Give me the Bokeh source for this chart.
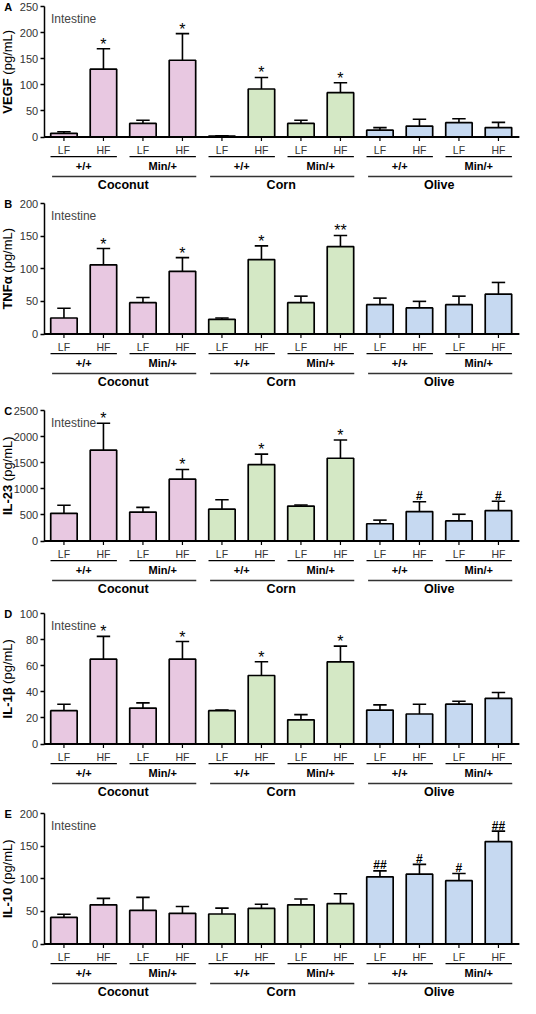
import numpy as np
from bokeh.plotting import figure
from bokeh.models import LinearAxis, FixedTicker, Range1d
from bokeh.layouts import column
from bokeh.core.properties import value
from bokeh.embed import file_html
from bokeh.resources import INLINE

# ---------------- data ----------------
fat_labels = ["LF", "HF"] * 6
genotype_labels = ["+/+", "Min/+"] * 3
diet_labels = ["Coconut", "Corn", "Olive"]
diet_colors = ["#E8C8E1", "#D4E8C5", "#C6D9F1"]

vegf_mean = [7, 130, 26, 147, 1.5, 92, 26, 85, 13, 21, 27.5, 18]
vegf_err = [3, 39, 6, 51, 1, 22, 6, 19, 5, 13, 7.5, 10]
vegf_sig = ["", "*", "", "*", "", "*", "", "*", "", "", "", ""]

tnf_mean = [24.5, 106, 48, 96, 22.5, 114, 48, 134, 45, 40, 45, 61]
tnf_err = [15, 25, 8, 21, 2, 21, 10, 17, 10, 10, 13, 18]
tnf_sig = ["", "*", "", "*", "", "*", "", "**", "", "", "", ""]

il23_mean = [530, 1740, 555, 1185, 610, 1465, 670, 1585, 330, 563, 385, 582]
il23_err = [155, 515, 90, 185, 180, 200, 20, 350, 70, 190, 127, 180]
il23_sig = ["", "*", "", "*", "", "*", "", "*", "", "#", "", "#"]

il1b_mean = [25.5, 65, 27.5, 65, 25.5, 52.5, 18.5, 63, 26, 23, 30.5, 35]
il1b_err = [5, 17.5, 4, 13.5, 0.6, 10.5, 4, 12, 4, 7.5, 2.3, 4.5]
il1b_sig = ["", "*", "", "*", "", "*", "", "*", "", "", "", ""]

il10_mean = [40.7, 60, 51.4, 47, 46, 54.5, 60, 62, 103, 107, 97, 157]
il10_err = [5, 10, 20, 10.5, 9, 6.5, 9, 15, 9, 15, 11, 16]
il10_sig = ["", "", "", "", "", "", "", "", "##", "#", "#", "##"]

panel_letters = ["A", "B", "C", "D", "E"]
panel_names = ["VEGF", "TNFα", "IL-23", "IL-1β", "IL-10"]
panel_ymax = [250, 200, 2500, 100, 200]
panel_step = [50, 50, 500, 20, 50]
tissue_label = "Intestine"

# ---------------- layout constants ----------------
FONT = "Liberation Sans"
HD = 130.5            # pixel height of the data area (0..ymax)
TOP = 6               # pixels above the data area
heights = [197, 207, 203, 200, 191]
PX = 39.5             # pixels per category unit
AXIS_X = -0.5         # where the y axis sits
X_START = AXIS_X - 43.7 / PX
X_END = X_START + 520 / PX
X_BASE_END = 11.53

BOLD_W = {"V": 667, "E": 667, "G": 778, "F": 611, "T": 611, "N": 722, "α": 620,
          "I": 278, "L": 611, "-": 333, "0": 556, "1": 556, "2": 556, "3": 556, "β": 600}
REG_W = {"(": 333, "p": 556, "g": 556, "/": 278, "m": 833, "L": 556, ")": 333}


def text_w(s, table, size):
    return sum(table.get(c, 556) for c in s) / 1000 * size


def make_panel(i, means, errs, sigs):
    ymax = panel_ymax[i]
    h = heights[i]
    k = ymax / HD  # data units per pixel
    ymin = -(h - TOP - HD) * k
    p = figure(width=520, height=h, x_range=Range1d(X_START, X_END),
               y_range=Range1d(ymin, ymax + TOP * k),
               output_backend="svg", toolbar_location=None,
               x_axis_type=None, y_axis_type=None,
               min_border_left=0, min_border_right=0, min_border_top=0, min_border_bottom=0)
    p.outline_line_color = None
    p.background_fill_color = "white"
    p.border_fill_color = "white"

    ax = LinearAxis(fixed_location=AXIS_X, bounds=(0, ymax),
                    ticker=FixedTicker(ticks=list(range(0, ymax + 1, panel_step[i]))),
                    axis_line_width=1.5, axis_line_color="black",
                    major_tick_out=4, major_tick_in=0, major_tick_line_width=1.5,
                    minor_tick_out=0, minor_tick_in=0,
                    major_label_standoff=2,
                    major_label_text_font=FONT, major_label_text_font_size="11px",
                    major_label_text_color="#333333")
    p.add_layout(ax, "left")

    xs = np.arange(12)
    m = np.array(means, dtype=float)
    e = np.array(errs, dtype=float)
    colors = [diet_colors[j // 4] for j in range(12)]

    # error bars (upper only)
    p.segment(x0=xs, y0=m, x1=xs, y1=m + e, line_color="black", line_width=1.6)
    p.segment(x0=xs - 0.17, y0=m + e, x1=xs + 0.17, y1=m + e, line_color="black", line_width=1.6)
    # bars
    p.vbar(x=xs, top=m, bottom=0, width=0.67, fill_color=colors,
           line_color="black", line_width=1.7)
    # x baseline and ticks
    p.segment(x0=[AXIS_X], y0=[0], x1=[X_BASE_END], y1=[0], line_color="black", line_width=2)
    p.segment(x0=xs, y0=0, x1=xs, y1=-4 * k, line_color="black", line_width=1.2)

    # category labels
    p.text(x=xs, y=-12.5 * k, text=fat_labels, text_align="center", text_baseline="middle",
           text_font=value(FONT), text_font_size=value("10.5px"), text_color="#333333")
    pair_x = np.arange(6) * 2
    p.segment(x0=pair_x - 0.34, y0=-19.7 * k, x1=pair_x + 1.34, y1=-19.7 * k,
              line_color="black", line_width=1.3)
    p.text(x=pair_x + 0.5, y=-29 * k, text=genotype_labels, text_align="center",
           text_baseline="middle", text_font=value(FONT), text_font_style="bold",
           text_font_size=value("11px"), text_color="black")
    diet_x = np.arange(3) * 4
    p.segment(x0=diet_x - 0.3, y0=-39.5 * k, x1=diet_x + 3.35, y1=-39.5 * k,
              line_color="#333333", line_width=1.3)
    p.text(x=diet_x + 1.5, y=-48 * k, text=diet_labels, text_align="center",
           text_baseline="middle", text_font=value(FONT), text_font_style="bold",
           text_font_size=value("12.5px"), text_color="black")

    # significance markers
    star_x, star_y, star_t = [], [], []
    hash_x, hash_y, hash_t = [], [], []
    for j, s in enumerate(sigs):
        cap = m[j] + e[j]
        if "*" in s:
            star_x.append(j); star_y.append(cap + 4.5 * k); star_t.append(s)
        elif "#" in s:
            hash_x.append(j); hash_y.append(cap + 5.5 * k); hash_t.append(s)
    if star_x:
        p.text(x=star_x, y=star_y, text=star_t, text_align="center", text_baseline="alphabetic",
               text_font=value(FONT), text_font_size=value("16px"), text_color="black")
    if hash_x:
        p.text(x=hash_x, y=hash_y, text=hash_t, text_align="center", text_baseline="alphabetic",
               text_font=value(FONT), text_font_style="bold", text_font_size=value("12px"),
               text_color="black")

    # tissue label
    p.text(x=[-0.33], y=[ymax - 12.5 * k], text=[tissue_label], text_align="left",
           text_baseline="middle", text_font=value(FONT), text_font_size=value("12px"),
           text_color="#444444")

    # y-axis title: bold name + regular unit, rotated
    name = panel_names[i]
    unit = "(pg/mL)"
    w1 = text_w(name, BOLD_W, 13)
    w2 = text_w(unit, REG_W, 13)
    gap = 3.6
    W = w1 + gap + w2
    y_start = ymax / 2 - (W / 2) * k
    title_x = AXIS_X - (51.7 - 15.3) / PX
    p.text(x=[title_x], y=[y_start], text=[name], angle=np.pi / 2, text_align="left",
           text_baseline="middle", text_font=value(FONT), text_font_style="bold",
           text_font_size=value("13px"), text_color="black")
    p.text(x=[title_x], y=[y_start + (w1 + gap) * k], text=[unit], angle=np.pi / 2,
           text_align="left", text_baseline="middle", text_font=value(FONT),
           text_font_size=value("13px"), text_color="black")
    # panel letter
    p.text(x=[title_x + 0.01], y=[ymax], text=[panel_letters[i]], text_align="center",
           text_baseline="middle", text_font=value(FONT), text_font_style="bold",
           text_font_size=value("11px"), text_color="black")
    return p


panels = [
    make_panel(0, vegf_mean, vegf_err, vegf_sig),
    make_panel(1, tnf_mean, tnf_err, tnf_sig),
    make_panel(2, il23_mean, il23_err, il23_sig),
    make_panel(3, il1b_mean, il1b_err, il1b_sig),
    make_panel(4, il10_mean, il10_err, il10_sig),
]

layout = column(*panels, spacing=0)
open("out.html", "w").write(file_html(layout, INLINE))
